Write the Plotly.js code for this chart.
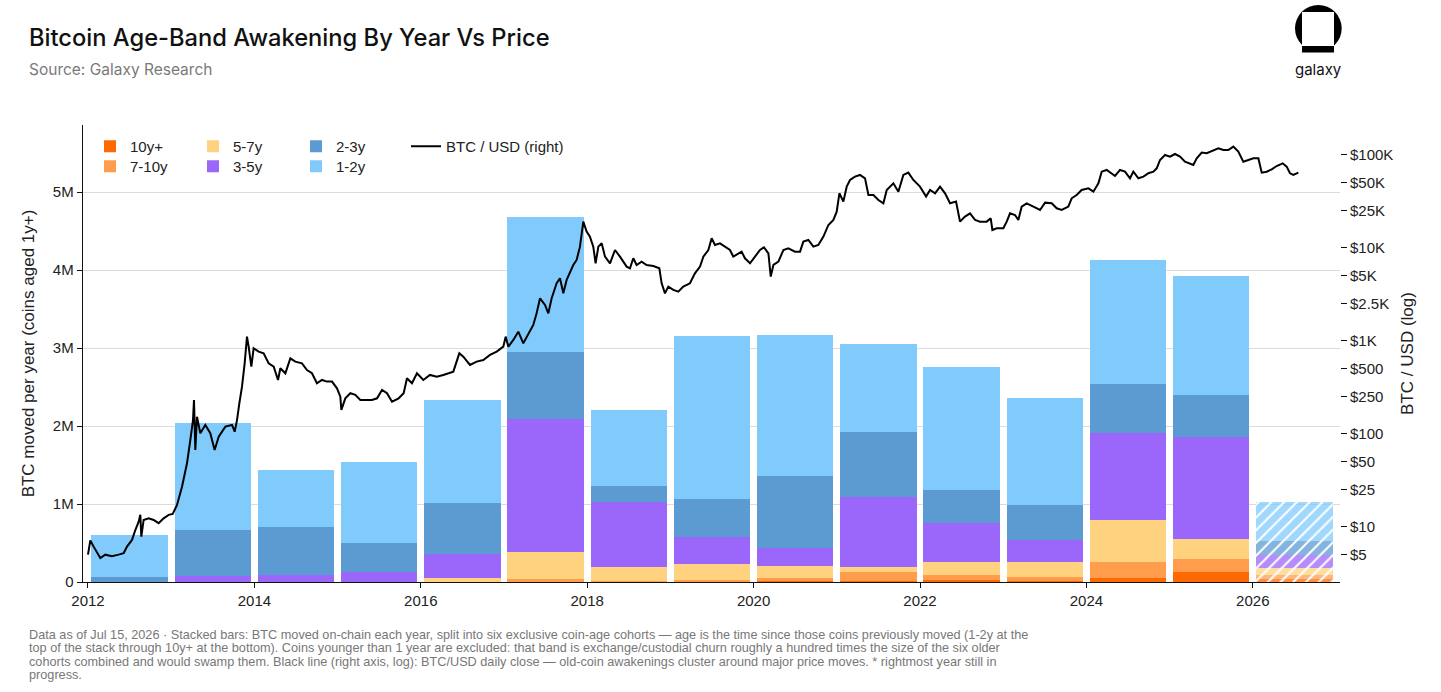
<!DOCTYPE html>
<html><head><meta charset="utf-8">
<script src="https://cdn.plot.ly/plotly-3.0.1.min.js"></script>
<style>html,body{margin:0;padding:0;background:#fff}#chart{width:1441px;height:692px}</style>
</head><body><div id="chart"></div><script>
// ---------- data ----------
const years = [2012,2013,2014,2015,2016,2017,2018,2019,2020,2021,2022,2023,2024,2025,2026];
const partialYear = 2026;
// BTC moved per year, by coin-age cohort (BTC)
const age10yPlus = [0,0,0,0,0,0,0,5000,10000,10000,20000,15000,45000,125000,35000];
const age7to10y  = [0,0,0,0,5000,40000,10000,20000,45000,115000,66000,45000,210000,175000,50000];
const age5to7y   = [0,0,0,5000,40000,350000,185000,205000,150000,70000,170000,195000,540000,250000,90000];
const age3to5y   = [0,75000,85000,125000,315000,1700000,825000,350000,230000,895000,505000,285000,1115000,1310000,167000];
const age2to3y   = [60000,590000,625000,365000,655000,860000,210000,483000,923000,830000,420000,450000,630000,540000,188000];
const age1to2y   = [540000,1375000,730000,1045000,1320000,1730000,980000,2086000,1810000,1130000,1580000,1370000,1590000,1520000,500000];

// BTC/USD close (decimal year, USD)
const priceYear = [
2012.000,2012.028,2012.068,2012.108,2012.148,2012.208,2012.288,2012.369,2012.429,2012.469,
2012.529,2012.569,2012.609,2012.629,2012.641,2012.669,2012.729,2012.789,2012.849,2012.909,
2012.970,2013.018,2013.070,2013.130,2013.190,2013.230,2013.262,2013.274,2013.290,2013.310,
2013.350,2013.410,2013.470,2013.522,2013.571,2013.651,2013.731,2013.763,2013.791,2013.819,
2013.851,2013.883,2013.911,2013.931,2013.963,2013.991,2014.051,2014.111,2014.171,2014.232,
2014.284,2014.312,2014.372,2014.432,2014.492,2014.572,2014.632,2014.692,2014.752,2014.812,
2014.873,2014.933,2014.993,2015.033,2015.045,2015.093,2015.153,2015.213,2015.273,2015.333,
2015.413,2015.474,2015.534,2015.594,2015.654,2015.734,2015.794,2015.834,2015.894,2015.954,
2016.030,2016.110,2016.191,2016.271,2016.391,2016.463,2016.511,2016.591,2016.671,2016.751,
2016.832,2016.912,2016.992,2017.020,2017.052,2017.112,2017.172,2017.232,2017.292,2017.352,
2017.392,2017.433,2017.493,2017.533,2017.573,2017.633,2017.673,2017.713,2017.753,2017.793,
2017.833,2017.873,2017.913,2017.953,2017.993,2018.033,2018.073,2018.101,2018.134,2018.174,
2018.214,2018.274,2018.334,2018.394,2018.474,2018.514,2018.554,2018.594,2018.654,2018.714,
2018.795,2018.867,2018.895,2018.935,2018.975,2019.035,2019.095,2019.155,2019.235,2019.295,
2019.356,2019.396,2019.456,2019.496,2019.536,2019.596,2019.656,2019.716,2019.756,2019.816,
2019.856,2019.896,2019.957,
2020.017,2020.077,2020.125,2020.178,2020.206,2020.238,2020.298,2020.358,2020.418,2020.498,
2020.558,2020.598,2020.658,2020.718,2020.778,2020.839,2020.899,2020.959,2020.999,2021.031,
2021.079,2021.119,2021.159,2021.219,2021.279,2021.339,2021.380,2021.440,2021.500,2021.560,
2021.600,2021.680,2021.740,2021.800,2021.860,2021.920,2022.000,2022.073,2022.121,2022.181,
2022.241,2022.301,2022.361,2022.433,2022.481,2022.541,2022.601,2022.662,2022.722,2022.802,
2022.850,2022.870,2022.922,2023.002,2023.042,2023.082,2023.142,2023.182,2023.222,2023.282,
2023.363,2023.443,2023.503,2023.583,2023.643,2023.703,2023.783,2023.823,2023.883,2023.943,
2024.024,2024.084,2024.144,2024.184,2024.244,2024.304,2024.344,2024.404,2024.464,
2024.524,2024.564,2024.625,2024.685,2024.745,2024.805,2024.845,2024.885,2024.945,2025.005,2025.065,
2025.125,2025.185,2025.245,2025.285,2025.326,2025.386,2025.446,2025.526,2025.586,2025.646,2025.706,
2025.766,2025.826,2025.886,2025.947,2026.007,2026.067,2026.107,2026.167,2026.227,2026.287,2026.359,2026.407,2026.447,2026.487,2026.547
];
const priceUsd = [
5.0,7.1,6.1,5.2,4.6,5.0,4.8,5.0,5.2,6.1,
7.2,9.2,11.3,13.4,7.8,11.8,12.3,11.8,10.9,12.3,
13.4,13.7,17.1,26.9,48,85.5,140,230,66.8,152,
101,124,101,66.8,92.9,119,124,105,140,212,
320,571,1105,863,526,828,762,731,571,526,
378,505,446,646,595,571,484,446,348,378,
363,363,307,250,180,240,272,261,230,230,
230,240,295,272,221,240,272,394,348,446,
378,428,410,428,465,731,673,548,595,620,
702,762,863,1105,863,1018,1250,937,1200,1475,
1968,2856,2420,1968,2856,4139,4686,3230,4496,5523,
6513,7376,10260,19050,14870,13140,10260,6790,10260,11140,
8010,6790,9440,8010,6250,6000,7690,6513,7080,6513,
6355,6000,4139,3230,3810,3510,3368,3810,4139,5300,
6250,8010,9440,12610,10690,11140,10260,9440,8010,8690,
9060,7690,6790,
8010,9440,10090,8690,4880,6513,7080,9440,9840,9060,
9060,11610,12100,10260,10690,13140,17540,19860,24380,38430,
31260,45290,53460,58060,60500,55700,36870,36870,32580,29980,
41690,49210,40000,60500,64120,53460,45290,35400,41690,38430,
45290,38430,29980,31260,19050,21560,23400,19860,19050,19050,
20690,15490,16150,16150,19050,23400,22470,19860,27610,29980,
27610,25430,30480,29980,26500,25430,27610,33960,36870,41690,
43470,40000,49210,65640,68440,63070,59020,68440,65640,
55700,65640,55700,58060,63070,65640,71300,87700,99300,95300,101700,
95300,84100,80700,77500,91400,105200,103500,110400,117000,112300,112300,
122000,107900,84100,87700,91400,91400,64120,65640,69600,75500,80700,74300,63070,60500,64120
];

const leftTickVals = [0,1000000,2000000,3000000,4000000,5000000];
const leftTickText = ['0','1M','2M','3M','4M','5M'];
const rightTickVals = [5,10,25,50,100,250,500,1000,2500,5000,10000,25000,50000,100000];
const rightTickText = ['$5','$10','$25','$50','$100','$250','$500','$1K','$2.5K','$5K','$10K','$25K','$50K','$100K'];
const xTickVals = [2012,2014,2016,2018,2020,2022,2024,2026];

// ---------- chart ----------
const cohorts = [
  {name:'10y+',  vals:age10yPlus, color:'#FF6A00', legend:'legend'},
  {name:'7-10y', vals:age7to10y,  color:'#FF9D4D', legend:'legend2'},
  {name:'5-7y',  vals:age5to7y,   color:'#FFD27F', legend:'legend'},
  {name:'3-5y',  vals:age3to5y,   color:'#9B66FA', legend:'legend2'},
  {name:'2-3y',  vals:age2to3y,   color:'#5B9BD2', legend:'legend'},
  {name:'1-2y',  vals:age1to2y,   color:'#80CBFC', legend:'legend2'}
];
const barX = years.map(y => y + 0.5);
const traces = cohorts.map(c => ({
  type:'bar', name:c.name, x:barX, y:c.vals, width:0.92, legend:c.legend,
  marker:{color:c.color, line:{width:0},
    opacity: years.map(y => y === partialYear ? 0.75 : 1),
    pattern:{shape: years.map(y => y === partialYear ? '/' : ''), fillmode:'overlay',
      fgcolor:'#ffffff', fgopacity:1, size:9, solidity:0.22}},
  hoverinfo:'skip'
}));
traces.push({
  type:'scatter', mode:'lines', name:'BTC / USD (right)', x:priceYear, y:priceUsd,
  yaxis:'y2', legend:'legend3', line:{color:'#000', width:2}, hoverinfo:'skip'
});

const L = 83, R = 101, T = 125, B = 110, W = 1441, H = 692;
const pw = W - L - R, ph = H - T - B;
const px = v => (v - L) / pw;           // page px -> paper x (for decoration)
const py = v => (H - B - v) / ph;        // page px -> paper y

const font = 'Liberation Sans, Arial, sans-serif';
const footLines = [
  'Data as of Jul 15, 2026 · Stacked bars: BTC moved on-chain each year, split into six exclusive coin-age cohorts — age is the time since those coins previously moved (1-2y at the',
  'top of the stack through 10y+ at the bottom). Coins younger than 1 year are excluded: that band is exchange/custodial churn roughly a hundred times the size of the six older',
  'cohorts combined and would swamp them. Black line (right axis, log): BTC/USD daily close — old-coin awakenings cluster around major price moves. * rightmost year still in',
  'progress.'
];
const footY = [635, 648.3, 661.7, 675];

const annotations = [
  {text:'Bitcoin Age-Band Awakening By Year Vs Price', xref:'paper', yref:'paper', x:px(27), y:py(37),
   xanchor:'left', yanchor:'middle', showarrow:false, font:{family:'Inter, Roboto, sans-serif', size:23.7, color:'#111', weight:500}},
  {text:'Source: Galaxy Research', xref:'paper', yref:'paper', x:px(27), y:py(69),
   xanchor:'left', yanchor:'middle', showarrow:false, font:{family:'Inter, Roboto, sans-serif', size:15.5, color:'#7a7a7a'}},
  {text:'galaxy', xref:'paper', yref:'paper', x:px(1318), y:py(69),
   xanchor:'center', yanchor:'middle', showarrow:false, font:{family:'Inter, Roboto, sans-serif', size:15, color:'#111'}}
].concat(footLines.map((t,i) => ({
  text:t, xref:'paper', yref:'paper', x:px(27), y:py(footY[i]), xanchor:'left', yanchor:'middle',
  showarrow:false, font:{family:font, size:12.7, color:'#777'}
})));

const shapes = [
  {type:'circle', xref:'paper', yref:'paper', x0:px(1295), x1:px(1341.7), y0:py(51.7), y1:py(5), fillcolor:'#000', line:{width:0}},
  {type:'rect', xref:'paper', yref:'paper', x0:px(1302), x1:px(1334), y0:py(46), y1:py(12), fillcolor:'#fff', line:{width:0}},
  {type:'rect', xref:'paper', yref:'paper', x0:px(1302), x1:px(1334), y0:py(52.5), y1:py(46), fillcolor:'#000', line:{width:0}}
];

const legendBase = {orientation:'h', xanchor:'left', yanchor:'top', bgcolor:'rgba(0,0,0,0)',
  traceorder:'normal', font:{size:15, color:'#222'}, itemwidth:30, tracegroupgap:0};

const layout = {
  width:W, height:H, margin:{l:L, r:R, t:T, b:B}, paper_bgcolor:'#fff', plot_bgcolor:'#fff',
  barmode:'stack', font:{family:font, size:15, color:'#222'}, showlegend:true,
  xaxis:{range:[2011.94, 2027.048], tickvals:xTickVals, ticktext:xTickVals.map(String),
    showgrid:false, zeroline:false, showline:true, linecolor:'#111', linewidth:1.3,
    ticks:'outside', ticklen:5, tickcolor:'#111', tickfont:{size:15, color:'#222'}},
  yaxis:{range:[0, 5859000], tickvals:leftTickVals, ticktext:leftTickText,
    showgrid:true, gridcolor:'#dcdcdc', gridwidth:1, zeroline:false, showline:true, linecolor:'#111', linewidth:1.3,
    ticks:'outside', ticklen:5, tickcolor:'#111', tickfont:{size:15, color:'#222'},
    title:{text:'BTC moved per year (coins aged 1y+)', font:{size:17, color:'#222'}, standoff:14}},
  yaxis2:{type:'log', overlaying:'y', side:'right', range:[0.405, 5.319],
    tickvals:rightTickVals, ticktext:rightTickText, showgrid:false, zeroline:false, showline:false,
    ticks:'outside', ticklen:6, tickcolor:'#111', tickfont:{size:15, color:'#222'},
    title:{text:'BTC / USD (log)', font:{size:17, color:'#222'}, standoff:8}},
  legend:Object.assign({}, legendBase, {x:px(90), y:py(130), entrywidth:58, entrywidthmode:'pixels'}),
  legend2:Object.assign({}, legendBase, {x:px(90), y:py(150), entrywidth:58, entrywidthmode:'pixels'}),
  legend3:Object.assign({}, legendBase, {x:px(406), y:py(130)}),
  annotations:annotations, shapes:shapes
};

Plotly.newPlot('chart', traces, layout, {staticPlot:true, displayModeBar:false});
</script></body></html>
